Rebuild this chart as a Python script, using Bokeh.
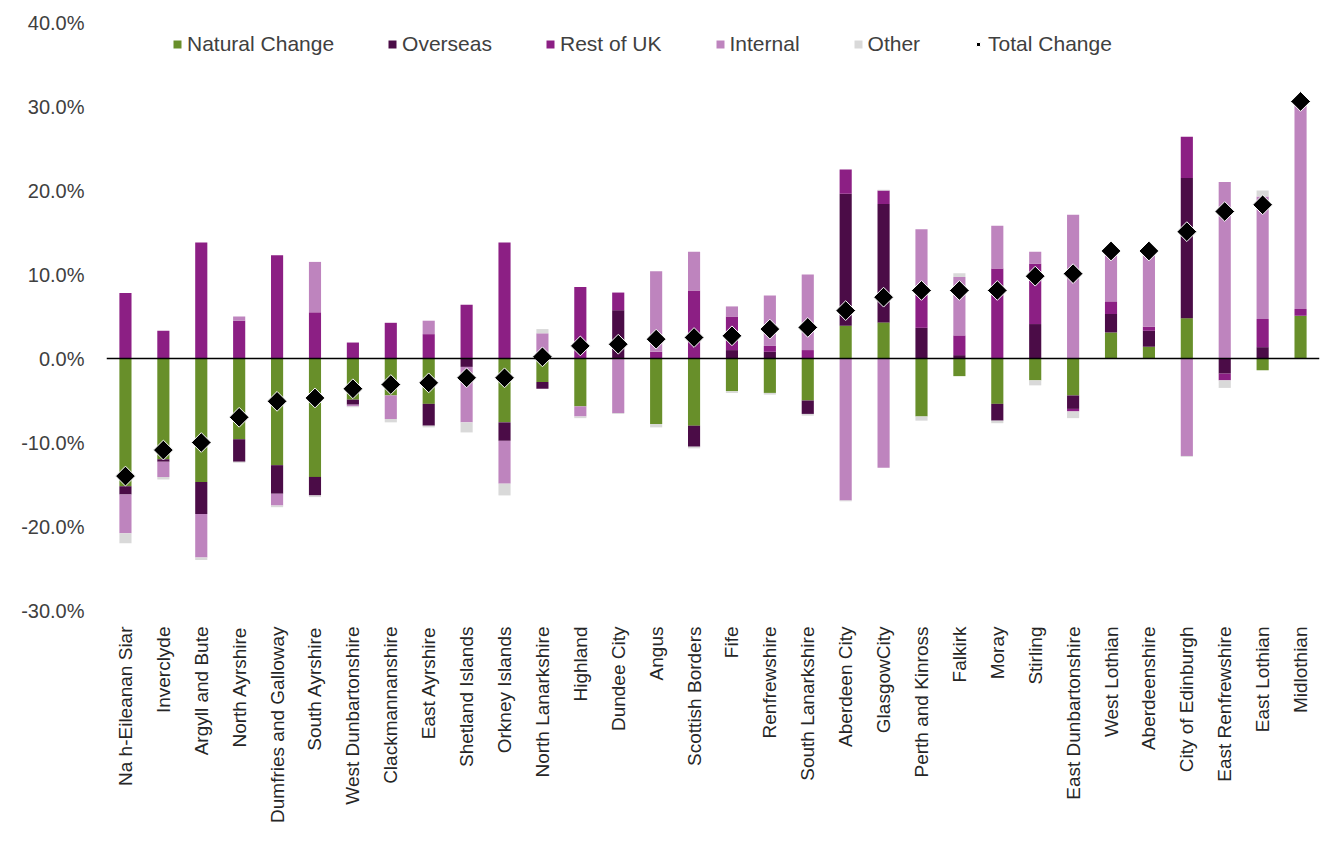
import math
from bokeh.plotting import figure
from bokeh.models import Range1d, FixedTicker, PrintfTickFormatter, Span, Legend, LegendItem
from bokeh.embed import file_html
from bokeh.resources import INLINE

councils = ["Na h-Eileanan Siar", "Inverclyde", "Argyll and Bute", "North Ayrshire",
            "Dumfries and Galloway", "South Ayrshire", "West Dunbartonshire", "Clackmannanshire",
            "East Ayrshire", "Shetland Islands", "Orkney Islands", "North Lanarkshire",
            "Highland", "Dundee City", "Angus", "Scottish Borders", "Fife", "Renfrewshire",
            "South Lanarkshire", "Aberdeen City", "GlasgowCity", "Perth and Kinross", "Falkirk",
            "Moray", "Stirling", "East Dunbartonshire", "West Lothian", "Aberdeenshire",
            "City of Edinburgh", "East Renfrewshire", "East Lothian", "Midlothian"]

natural_change = [-15.2, -12.0, -14.7, -9.6, -12.7, -14.1, -4.9, -4.4, -5.4, 0.0, -7.6, -2.8,
                  -5.7, 0.0, -7.8, -8.0, -3.9, -4.1, -5.0, 3.9, 4.3, -6.9, -2.1,
                  -5.4, -2.6, -4.4, 3.1, 1.4, 4.8, 0.0, -1.4, 5.1]
overseas = [-1.0, -0.3, -3.8, -2.7, -3.4, -2.2, -0.6, 0.0, -2.6, -1.0, -2.2, -0.8,
            0.0, 5.75, 0.0, -2.5, 1.0, 0.8, -1.6, 15.7, 14.1, 3.65, 0.4,
            -2.0, 4.1, -1.6, 2.2, 1.9, 16.7, -1.8, 1.35, 0.0]
rest_of_uk = [7.8, 3.3, 13.8, 4.5, 12.3, 5.5, 1.9, 4.25, 2.9, 6.4, 13.8, 0.3,
              8.5, 2.1, 0.8, 8.1, 4.0, 0.7, 1.0, 2.9, 1.6, 4.85, 2.35,
              10.7, 7.2, -0.3, 1.5, 0.5, 4.9, -0.8, 3.35, 0.8]
internal = [-4.6, -1.8, -5.2, 0.5, -1.4, 6.0, -0.2, -2.8, 1.6, -6.6, -5.1, 2.7,
            -1.2, -6.5, 9.6, 4.6, 1.2, 6.0, 9.0, -16.9, -13.0, 6.9, 6.95,
            5.1, 1.4, 17.1, 5.9, 8.7, -11.6, 21.0, 14.6, 24.6]
other = [-1.2, -0.3, -0.3, -0.1, -0.2, -0.2, -0.1, -0.4, -0.2, -1.2, -1.4, 0.5,
         -0.2, -0.1, -0.4, -0.2, -0.2, -0.2, -0.2, -0.1, 0.1, -0.5, 0.45,
         -0.3, -0.6, -0.8, 0.0, 0.0, -0.1, -0.9, 0.7, 0.2]
total_change = [-14.0, -10.9, -10.0, -7.0, -5.1, -4.7, -3.6, -3.1, -2.9, -2.3, -2.3, 0.2,
                1.5, 1.7, 2.3, 2.5, 2.7, 3.5, 3.7, 5.7, 7.3, 8.1, 8.1,
                8.1, 9.8, 10.1, 12.8, 12.8, 15.1, 17.5, 18.3, 30.6]

series_names = ["Natural Change", "Overseas", "Rest of UK", "Internal", "Other"]
series_values = [natural_change, overseas, rest_of_uk, internal, other]
series_colors = ["#688f2a", "#4b0c47", "#8c1f84", "#be84be", "#d9d9d9"]

y_ticks = [-30, -20, -10, 0, 10, 20, 30, 40]

FONT = "Liberation Sans"

p = figure(x_range=councils, y_range=Range1d(-30, 40), width=1322, height=834,
           output_backend="svg", toolbar_location=None,
           min_border_left=106, min_border_right=3, min_border_top=22, min_border_bottom=224)
p.outline_line_color = None
p.xgrid.grid_line_color = None
p.ygrid.grid_line_color = None
p.background_fill_color = "white"

p.yaxis.ticker = FixedTicker(ticks=y_ticks)
p.yaxis.formatter = PrintfTickFormatter(format="%.1f%%")
p.yaxis.axis_line_color = None
p.yaxis.major_tick_line_color = None
p.yaxis.minor_tick_line_color = None
p.yaxis.major_label_text_font = FONT
p.yaxis.major_label_text_font_size = "20px"
p.yaxis.major_label_text_color = "#404040"
p.yaxis.major_label_standoff = 16

p.xaxis.axis_line_color = None
p.xaxis.major_tick_line_color = None
p.xaxis.major_label_orientation = math.pi / 2
p.xaxis.major_label_text_font = FONT
p.xaxis.major_label_text_font_size = "19px"
p.xaxis.major_label_text_color = "#262626"
p.xaxis.major_label_standoff = 10

n = len(councils)
pos = [0.0] * n
neg = [0.0] * n
items = []
for name, vals, col in zip(series_names, series_values, series_colors):
    bottoms, tops = [], []
    for i, v in enumerate(vals):
        if v >= 0:
            b = pos[i]; t = b + v; pos[i] = t
        else:
            b = neg[i]; t = b + v; neg[i] = t
        bottoms.append(b); tops.append(t)
    r = p.vbar(x=councils, bottom=bottoms, top=tops, width=0.32,
               fill_color=col, line_color=None)
    items.append(LegendItem(label=name, renderers=[r]))

p.add_layout(Span(location=0, dimension="width", line_color="black", line_width=1.5))

d = p.scatter(x=councils, y=total_change, marker="square", angle=math.pi / 4, size=14,
              fill_color="black", line_color="white", line_width=1)
items.append(LegendItem(label="Total Change", renderers=[d]))

legend = Legend(items=items, orientation="horizontal", location=(66, 554),
                background_fill_alpha=0, border_line_color=None,
                label_text_font=FONT, label_text_font_size="21px",
                label_text_color="#404040", glyph_width=10, glyph_height=10,
                label_standoff=5, spacing=53, padding=4)
p.add_layout(legend, "center")

open("out.html", "w").write(file_html(p, INLINE))
